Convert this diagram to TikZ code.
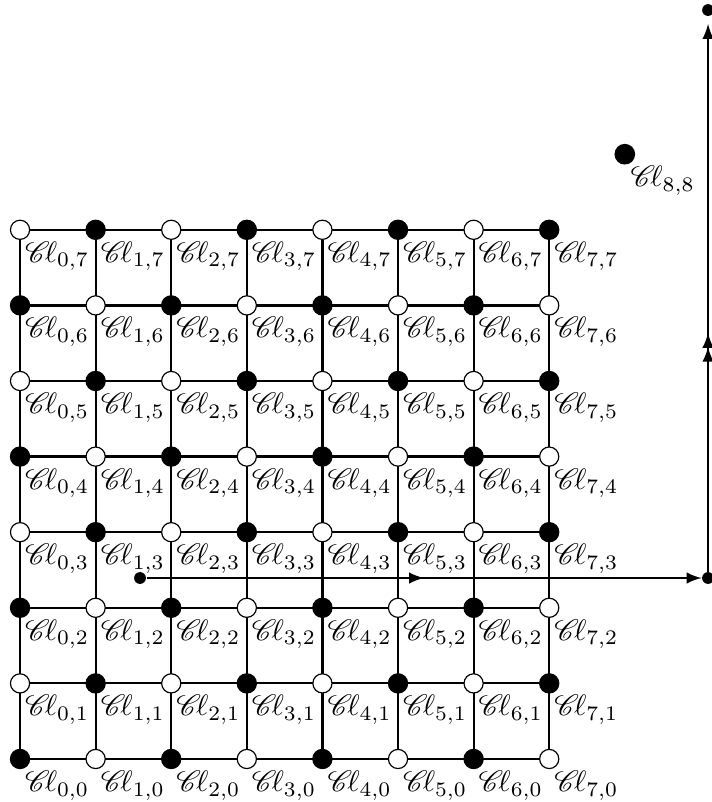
\documentclass[tikz,border=0pt]{standalone}
\usepackage{mathrsfs}
\usetikzlibrary{backgrounds,decorations.markings,arrows.meta}
\newcommand{\Cliff}{\mathscr{C}\!\ell}
\tikzset{
  blk/.style={circle,draw,fill=black,inner sep=0pt,minimum size=6.5pt},
  wht/.style={circle,draw,fill=white,inner sep=0pt,minimum size=6.5pt},
  lbl/.style={anchor=north west,inner sep=0pt},
  gridline/.style={line width=0.75pt},
  sdot/.style={circle,fill=black,inner sep=0pt,minimum size=4pt},
  bigdot/.style={circle,fill=black,inner sep=0pt,minimum size=7pt},
  route/.style={line width=0.75pt},
}
\begin{document}
\begin{tikzpicture}[x=0.9cm,y=0.9cm]
\useasboundingbox (-0.265,-0.569) rectangle (9.153,10.04);
\node[blk] (c00) at (0,0) {};
\node[wht] (c10) at (1,0) {};
\node[blk] (c20) at (2,0) {};
\node[wht] (c30) at (3,0) {};
\node[blk] (c40) at (4,0) {};
\node[wht] (c50) at (5,0) {};
\node[blk] (c60) at (6,0) {};
\node[wht] (c70) at (7,0) {};
\node[wht] (c01) at (0,1) {};
\node[blk] (c11) at (1,1) {};
\node[wht] (c21) at (2,1) {};
\node[blk] (c31) at (3,1) {};
\node[wht] (c41) at (4,1) {};
\node[blk] (c51) at (5,1) {};
\node[wht] (c61) at (6,1) {};
\node[blk] (c71) at (7,1) {};
\node[blk] (c02) at (0,2) {};
\node[wht] (c12) at (1,2) {};
\node[blk] (c22) at (2,2) {};
\node[wht] (c32) at (3,2) {};
\node[blk] (c42) at (4,2) {};
\node[wht] (c52) at (5,2) {};
\node[blk] (c62) at (6,2) {};
\node[wht] (c72) at (7,2) {};
\node[wht] (c03) at (0,3) {};
\node[blk] (c13) at (1,3) {};
\node[wht] (c23) at (2,3) {};
\node[blk] (c33) at (3,3) {};
\node[wht] (c43) at (4,3) {};
\node[blk] (c53) at (5,3) {};
\node[wht] (c63) at (6,3) {};
\node[blk] (c73) at (7,3) {};
\node[blk] (c04) at (0,4) {};
\node[wht] (c14) at (1,4) {};
\node[blk] (c24) at (2,4) {};
\node[wht] (c34) at (3,4) {};
\node[blk] (c44) at (4,4) {};
\node[wht] (c54) at (5,4) {};
\node[blk] (c64) at (6,4) {};
\node[wht] (c74) at (7,4) {};
\node[wht] (c05) at (0,5) {};
\node[blk] (c15) at (1,5) {};
\node[wht] (c25) at (2,5) {};
\node[blk] (c35) at (3,5) {};
\node[wht] (c45) at (4,5) {};
\node[blk] (c55) at (5,5) {};
\node[wht] (c65) at (6,5) {};
\node[blk] (c75) at (7,5) {};
\node[blk] (c06) at (0,6) {};
\node[wht] (c16) at (1,6) {};
\node[blk] (c26) at (2,6) {};
\node[wht] (c36) at (3,6) {};
\node[blk] (c46) at (4,6) {};
\node[wht] (c56) at (5,6) {};
\node[blk] (c66) at (6,6) {};
\node[wht] (c76) at (7,6) {};
\node[wht] (c07) at (0,7) {};
\node[blk] (c17) at (1,7) {};
\node[wht] (c27) at (2,7) {};
\node[blk] (c37) at (3,7) {};
\node[wht] (c47) at (4,7) {};
\node[blk] (c57) at (5,7) {};
\node[wht] (c67) at (6,7) {};
\node[blk] (c77) at (7,7) {};
\begin{scope}[on background layer]
\draw[gridline] (c00) -- (c70);
\draw[gridline] (c01) -- (c71);
\draw[gridline] (c02) -- (c72);
\draw[gridline] (c03) -- (c73);
\draw[gridline] (c04) -- (c74);
\draw[gridline] (c05) -- (c75);
\draw[gridline] (c06) -- (c76);
\draw[gridline] (c07) -- (c77);
\draw[gridline] (c00) -- (c07);
\draw[gridline] (c10) -- (c17);
\draw[gridline] (c20) -- (c27);
\draw[gridline] (c30) -- (c37);
\draw[gridline] (c40) -- (c47);
\draw[gridline] (c50) -- (c57);
\draw[gridline] (c60) -- (c67);
\draw[gridline] (c70) -- (c77);
\end{scope}
\node[lbl] (t00) at (0.060,-0.150) {$\Cliff_{0,0}$};
\node[lbl] (t10) at (1.060,-0.150) {$\Cliff_{1,0}$};
\node[lbl] (t20) at (2.060,-0.150) {$\Cliff_{2,0}$};
\node[lbl] (t30) at (3.060,-0.150) {$\Cliff_{3,0}$};
\node[lbl] (t40) at (4.060,-0.150) {$\Cliff_{4,0}$};
\node[lbl] (t50) at (5.060,-0.150) {$\Cliff_{5,0}$};
\node[lbl] (t60) at (6.060,-0.150) {$\Cliff_{6,0}$};
\node[lbl] (t70) at (7.060,-0.150) {$\Cliff_{7,0}$};
\node[lbl] (t01) at (0.060,0.850) {$\Cliff_{0,1}$};
\node[lbl] (t11) at (1.060,0.850) {$\Cliff_{1,1}$};
\node[lbl] (t21) at (2.060,0.850) {$\Cliff_{2,1}$};
\node[lbl] (t31) at (3.060,0.850) {$\Cliff_{3,1}$};
\node[lbl] (t41) at (4.060,0.850) {$\Cliff_{4,1}$};
\node[lbl] (t51) at (5.060,0.850) {$\Cliff_{5,1}$};
\node[lbl] (t61) at (6.060,0.850) {$\Cliff_{6,1}$};
\node[lbl] (t71) at (7.060,0.850) {$\Cliff_{7,1}$};
\node[lbl] (t02) at (0.060,1.850) {$\Cliff_{0,2}$};
\node[lbl] (t12) at (1.060,1.850) {$\Cliff_{1,2}$};
\node[lbl] (t22) at (2.060,1.850) {$\Cliff_{2,2}$};
\node[lbl] (t32) at (3.060,1.850) {$\Cliff_{3,2}$};
\node[lbl] (t42) at (4.060,1.850) {$\Cliff_{4,2}$};
\node[lbl] (t52) at (5.060,1.850) {$\Cliff_{5,2}$};
\node[lbl] (t62) at (6.060,1.850) {$\Cliff_{6,2}$};
\node[lbl] (t72) at (7.060,1.850) {$\Cliff_{7,2}$};
\node[lbl] (t03) at (0.060,2.850) {$\Cliff_{0,3}$};
\node[lbl] (t13) at (1.060,2.850) {$\Cliff_{1,3}$};
\node[lbl] (t23) at (2.060,2.850) {$\Cliff_{2,3}$};
\node[lbl] (t33) at (3.060,2.850) {$\Cliff_{3,3}$};
\node[lbl] (t43) at (4.060,2.850) {$\Cliff_{4,3}$};
\node[lbl] (t53) at (5.060,2.850) {$\Cliff_{5,3}$};
\node[lbl] (t63) at (6.060,2.850) {$\Cliff_{6,3}$};
\node[lbl] (t73) at (7.060,2.850) {$\Cliff_{7,3}$};
\node[lbl] (t04) at (0.060,3.850) {$\Cliff_{0,4}$};
\node[lbl] (t14) at (1.060,3.850) {$\Cliff_{1,4}$};
\node[lbl] (t24) at (2.060,3.850) {$\Cliff_{2,4}$};
\node[lbl] (t34) at (3.060,3.850) {$\Cliff_{3,4}$};
\node[lbl] (t44) at (4.060,3.850) {$\Cliff_{4,4}$};
\node[lbl] (t54) at (5.060,3.850) {$\Cliff_{5,4}$};
\node[lbl] (t64) at (6.060,3.850) {$\Cliff_{6,4}$};
\node[lbl] (t74) at (7.060,3.850) {$\Cliff_{7,4}$};
\node[lbl] (t05) at (0.060,4.850) {$\Cliff_{0,5}$};
\node[lbl] (t15) at (1.060,4.850) {$\Cliff_{1,5}$};
\node[lbl] (t25) at (2.060,4.850) {$\Cliff_{2,5}$};
\node[lbl] (t35) at (3.060,4.850) {$\Cliff_{3,5}$};
\node[lbl] (t45) at (4.060,4.850) {$\Cliff_{4,5}$};
\node[lbl] (t55) at (5.060,4.850) {$\Cliff_{5,5}$};
\node[lbl] (t65) at (6.060,4.850) {$\Cliff_{6,5}$};
\node[lbl] (t75) at (7.060,4.850) {$\Cliff_{7,5}$};
\node[lbl] (t06) at (0.060,5.850) {$\Cliff_{0,6}$};
\node[lbl] (t16) at (1.060,5.850) {$\Cliff_{1,6}$};
\node[lbl] (t26) at (2.060,5.850) {$\Cliff_{2,6}$};
\node[lbl] (t36) at (3.060,5.850) {$\Cliff_{3,6}$};
\node[lbl] (t46) at (4.060,5.850) {$\Cliff_{4,6}$};
\node[lbl] (t56) at (5.060,5.850) {$\Cliff_{5,6}$};
\node[lbl] (t66) at (6.060,5.850) {$\Cliff_{6,6}$};
\node[lbl] (t76) at (7.060,5.850) {$\Cliff_{7,6}$};
\node[lbl] (t07) at (0.060,6.850) {$\Cliff_{0,7}$};
\node[lbl] (t17) at (1.060,6.850) {$\Cliff_{1,7}$};
\node[lbl] (t27) at (2.060,6.850) {$\Cliff_{2,7}$};
\node[lbl] (t37) at (3.060,6.850) {$\Cliff_{3,7}$};
\node[lbl] (t47) at (4.060,6.850) {$\Cliff_{4,7}$};
\node[lbl] (t57) at (5.060,6.850) {$\Cliff_{5,7}$};
\node[lbl] (t67) at (6.060,6.850) {$\Cliff_{6,7}$};
\node[lbl] (t77) at (7.060,6.850) {$\Cliff_{7,7}$};
% the (8,8) point
\node[bigdot] (c88) at (8,8) {};
\node[lbl] (t88) at (8.070,7.850) {$\Cliff_{8,8}$};
% route
\node[sdot] (p0) at (1.587,2.394) {};
\node[sdot] (p1) at (9.101,2.394) {};
\node[sdot] (p2) at (9.101,9.907) {};
\draw[route,-latex,postaction={decorate},
  decoration={markings,mark=at position 0.5 with {\arrow{latex}}}] (p0) -- (p1);
\draw[route,-latex,shorten >=2.5pt,postaction={decorate},
  decoration={markings,mark=at position 0.405 with {\arrow{latex}},
  mark=at position 0.43 with {\arrow{latex}}}] (p1) -- (p2);
\end{tikzpicture}
\end{document}
